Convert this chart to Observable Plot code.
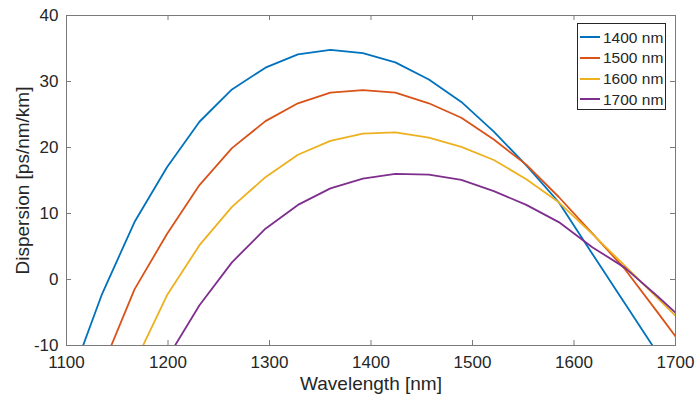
<!DOCTYPE html>
<html>
<head>
<meta charset="utf-8">
<script src="https://cdn.jsdelivr.net/npm/d3@7"></script>
<script src="https://cdn.jsdelivr.net/npm/@observablehq/plot@0.6"></script>
<style>
  body { margin: 0; background: #fff; }
  #wrap { position: relative; width: 695px; height: 401px; font-family: Arial, "Liberation Sans", Helvetica, sans-serif; }
  #legend { position: absolute; left: 577px; top: 23px; width: 87px; height: 82px; padding-top: 3px;
            border: 1px solid #262626; background: #fff; }
  .row { display: flex; align-items: center; height: 20.7px; }
  .swatch { margin-left: 2px; width: 20px; height: 2px; }
  .lab { margin-left: 3px; font-size: 15.5px; color: #262626; line-height: 1; }
</style>
</head>
<body>
<div id="wrap"></div>
<script>
// ---- data ----
const wavelength = [1102, 1135, 1167, 1199, 1231, 1263, 1296, 1328, 1360, 1392, 1424, 1457, 1489, 1521, 1553, 1585, 1618, 1650, 1682, 1714];
const d1400 = [-16.0, -2.2, 8.7, 17.0, 23.9, 28.8, 32.1, 34.1, 34.8, 34.3, 32.9, 30.3, 26.9, 22.4, 17.3, 11.7, 3.9, -3.6, -11.1, -19.0];
const d1500 = [-25.0, -13.4, -1.5, 6.9, 14.3, 19.9, 24.0, 26.7, 28.3, 28.7, 28.3, 26.7, 24.5, 21.2, 17.4, 12.5, 7.0, 1.6, -4.9, -11.5];
const d1600 = [null, null, -12.7, -2.4, 5.2, 11.0, 15.5, 18.9, 21.0, 22.1, 22.3, 21.5, 20.1, 18.1, 15.2, 11.7, 6.9, 2.1, -2.8, -7.6];
const d1700 = [null, null, null, -12.0, -3.9, 2.6, 7.7, 11.3, 13.8, 15.3, 16.0, 15.9, 15.1, 13.4, 11.3, 8.7, 4.9, 1.8, -2.5, -7.0];
const seriesNames = ["1400 nm", "1500 nm", "1600 nm", "1700 nm"];
const seriesColors = ["#0072BD", "#D95319", "#EDB120", "#7E2F8E"];
const xTicks = [1100, 1200, 1300, 1400, 1500, 1600, 1700];
const yTicks = [-10, 0, 10, 20, 30, 40];
const xLabel = "Wavelength [nm]";
const yLabel = "Dispersion [ps/nm/km]";

// ---- table ----
const seriesValues = [d1400, d1500, d1600, d1700];
const rows = [];
seriesValues.forEach((vals, s) => {
  vals.forEach((v, i) => rows.push({series: seriesNames[s], wavelength: wavelength[i], value: v}));
});

const W = 695, H = 401, mL = 66, mR = 20, mT = 15, mB = 56;
const innerW = W - mL - mR, innerH = H - mT - mB, tick = 5;
const txt = "#262626";
const fmt = d => String(d);

const chart = Plot.plot({
  width: W, height: H,
  marginLeft: mL, marginRight: mR, marginTop: mT, marginBottom: mB,
  style: {fontFamily: 'Arial, "Liberation Sans", Helvetica, sans-serif', fontSize: "17px", color: txt, background: "#fff", overflow: "visible"},
  x: {domain: [1100, 1700]},
  y: {domain: [-10, 40]},
  color: {domain: seriesNames, range: seriesColors},
  marks: [
    Plot.line(rows, {x: "wavelength", y: "value", z: "series", stroke: "series", strokeWidth: 1.8, clip: true}),
    Plot.frame({stroke: "#7a7a7a", strokeWidth: 1}),
    // inward ticks
    Plot.ruleX(xTicks, {x: d => d, insetTop: innerH - tick, stroke: "#7a7a7a"}),
    Plot.ruleX(xTicks, {x: d => d, insetBottom: innerH - tick, stroke: "#7a7a7a"}),
    Plot.ruleY(yTicks, {y: d => d, insetRight: innerW - tick, stroke: "#7a7a7a"}),
    Plot.ruleY(yTicks, {y: d => d, insetLeft: innerW - tick, stroke: "#7a7a7a"}),
    // tick labels
    Plot.axisX(xTicks, {anchor: "bottom", tickSize: 0, tickPadding: 10, fontSize: 17, fill: txt, label: null, tickFormat: fmt}),
    Plot.axisY(yTicks, {anchor: "left", tickSize: 0, tickPadding: 8, fontSize: 17, fill: txt, label: null, tickFormat: fmt}),
    // axis titles
    Plot.text([xLabel], {frameAnchor: "bottom", dy: 44, text: d => d, fontSize: 19, fill: txt, textAnchor: "middle"}),
    Plot.text([yLabel], {frameAnchor: "left", dx: -44, rotate: -90, text: d => d, fontSize: 19, fill: txt, textAnchor: "middle"})
  ]
});

const wrap = document.getElementById("wrap");
wrap.appendChild(chart);

// legend overlay
const legend = document.createElement("div");
legend.id = "legend";
seriesNames.forEach((name, i) => {
  const row = document.createElement("div");
  row.className = "row";
  const sw = document.createElement("span");
  sw.className = "swatch";
  sw.style.background = seriesColors[i];
  const lab = document.createElement("span");
  lab.className = "lab";
  lab.textContent = name;
  row.appendChild(sw); row.appendChild(lab);
  legend.appendChild(row);
});
wrap.appendChild(legend);
</script>
</body>
</html>
